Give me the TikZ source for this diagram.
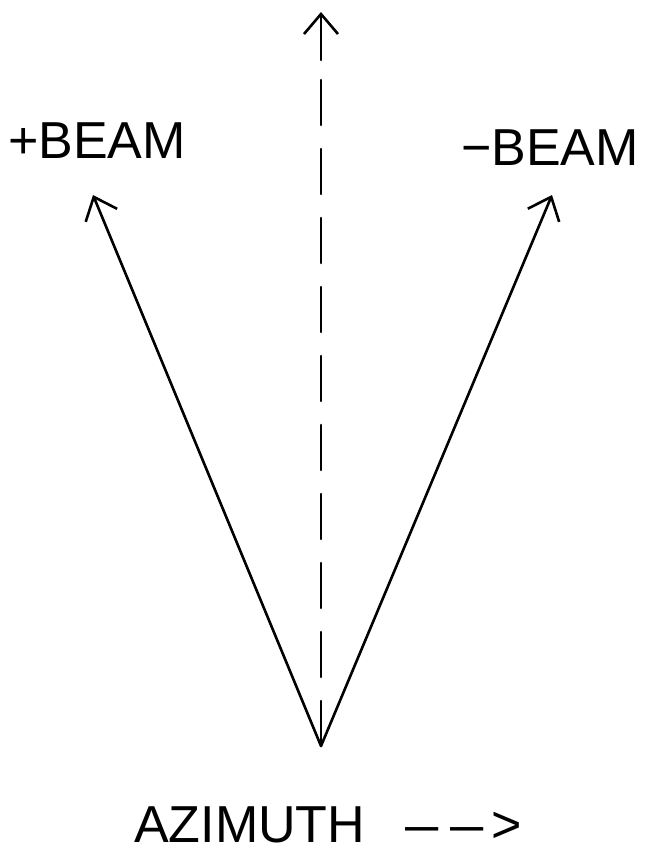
\documentclass[tikz,border=0pt]{standalone}
\usepackage{fontspec}
\setmainfont{Liberation Sans}
\usetikzlibrary{arrows.meta}
\begin{document}
\begin{tikzpicture}[x=1pt,y=-1pt,
  ln/.style={line width=2.6pt, line cap=round},
  tip/.style={-{Straight Barb[length=20pt,width=34pt,line width=2.6pt]}},
  lbl/.style={inner sep=0pt, font=\fontsize{52}{52}\selectfont},
]
\useasboundingbox (0,0) rectangle (652,855);
\coordinate (O) at (321,746);
\coordinate (L) at (93,195);
\coordinate (R) at (552,195);
\coordinate (T) at (321,12);
\coordinate (S) at (321,60);
\draw[ln,tip] (O) -- (L);
\draw[ln,tip] (O) -- (R);
\draw[ln,dash pattern=on 45pt off 24pt] (O) -- (S);
\draw[ln,tip] (S) -- (T);
\node[lbl,anchor=base west] (pb) at (8,158) {+BEAM};
\node[lbl,anchor=base west] (mb) at (461,165) {−BEAM};
\node[lbl,anchor=base west] (az) at (134,842) {AZIMUTH\hspace{40pt}\scalebox{1.15}[1]{\textendash}\hspace{12pt}\scalebox{1.15}[1]{\textendash}\hspace{8pt}>};
\end{tikzpicture}
\end{document}
